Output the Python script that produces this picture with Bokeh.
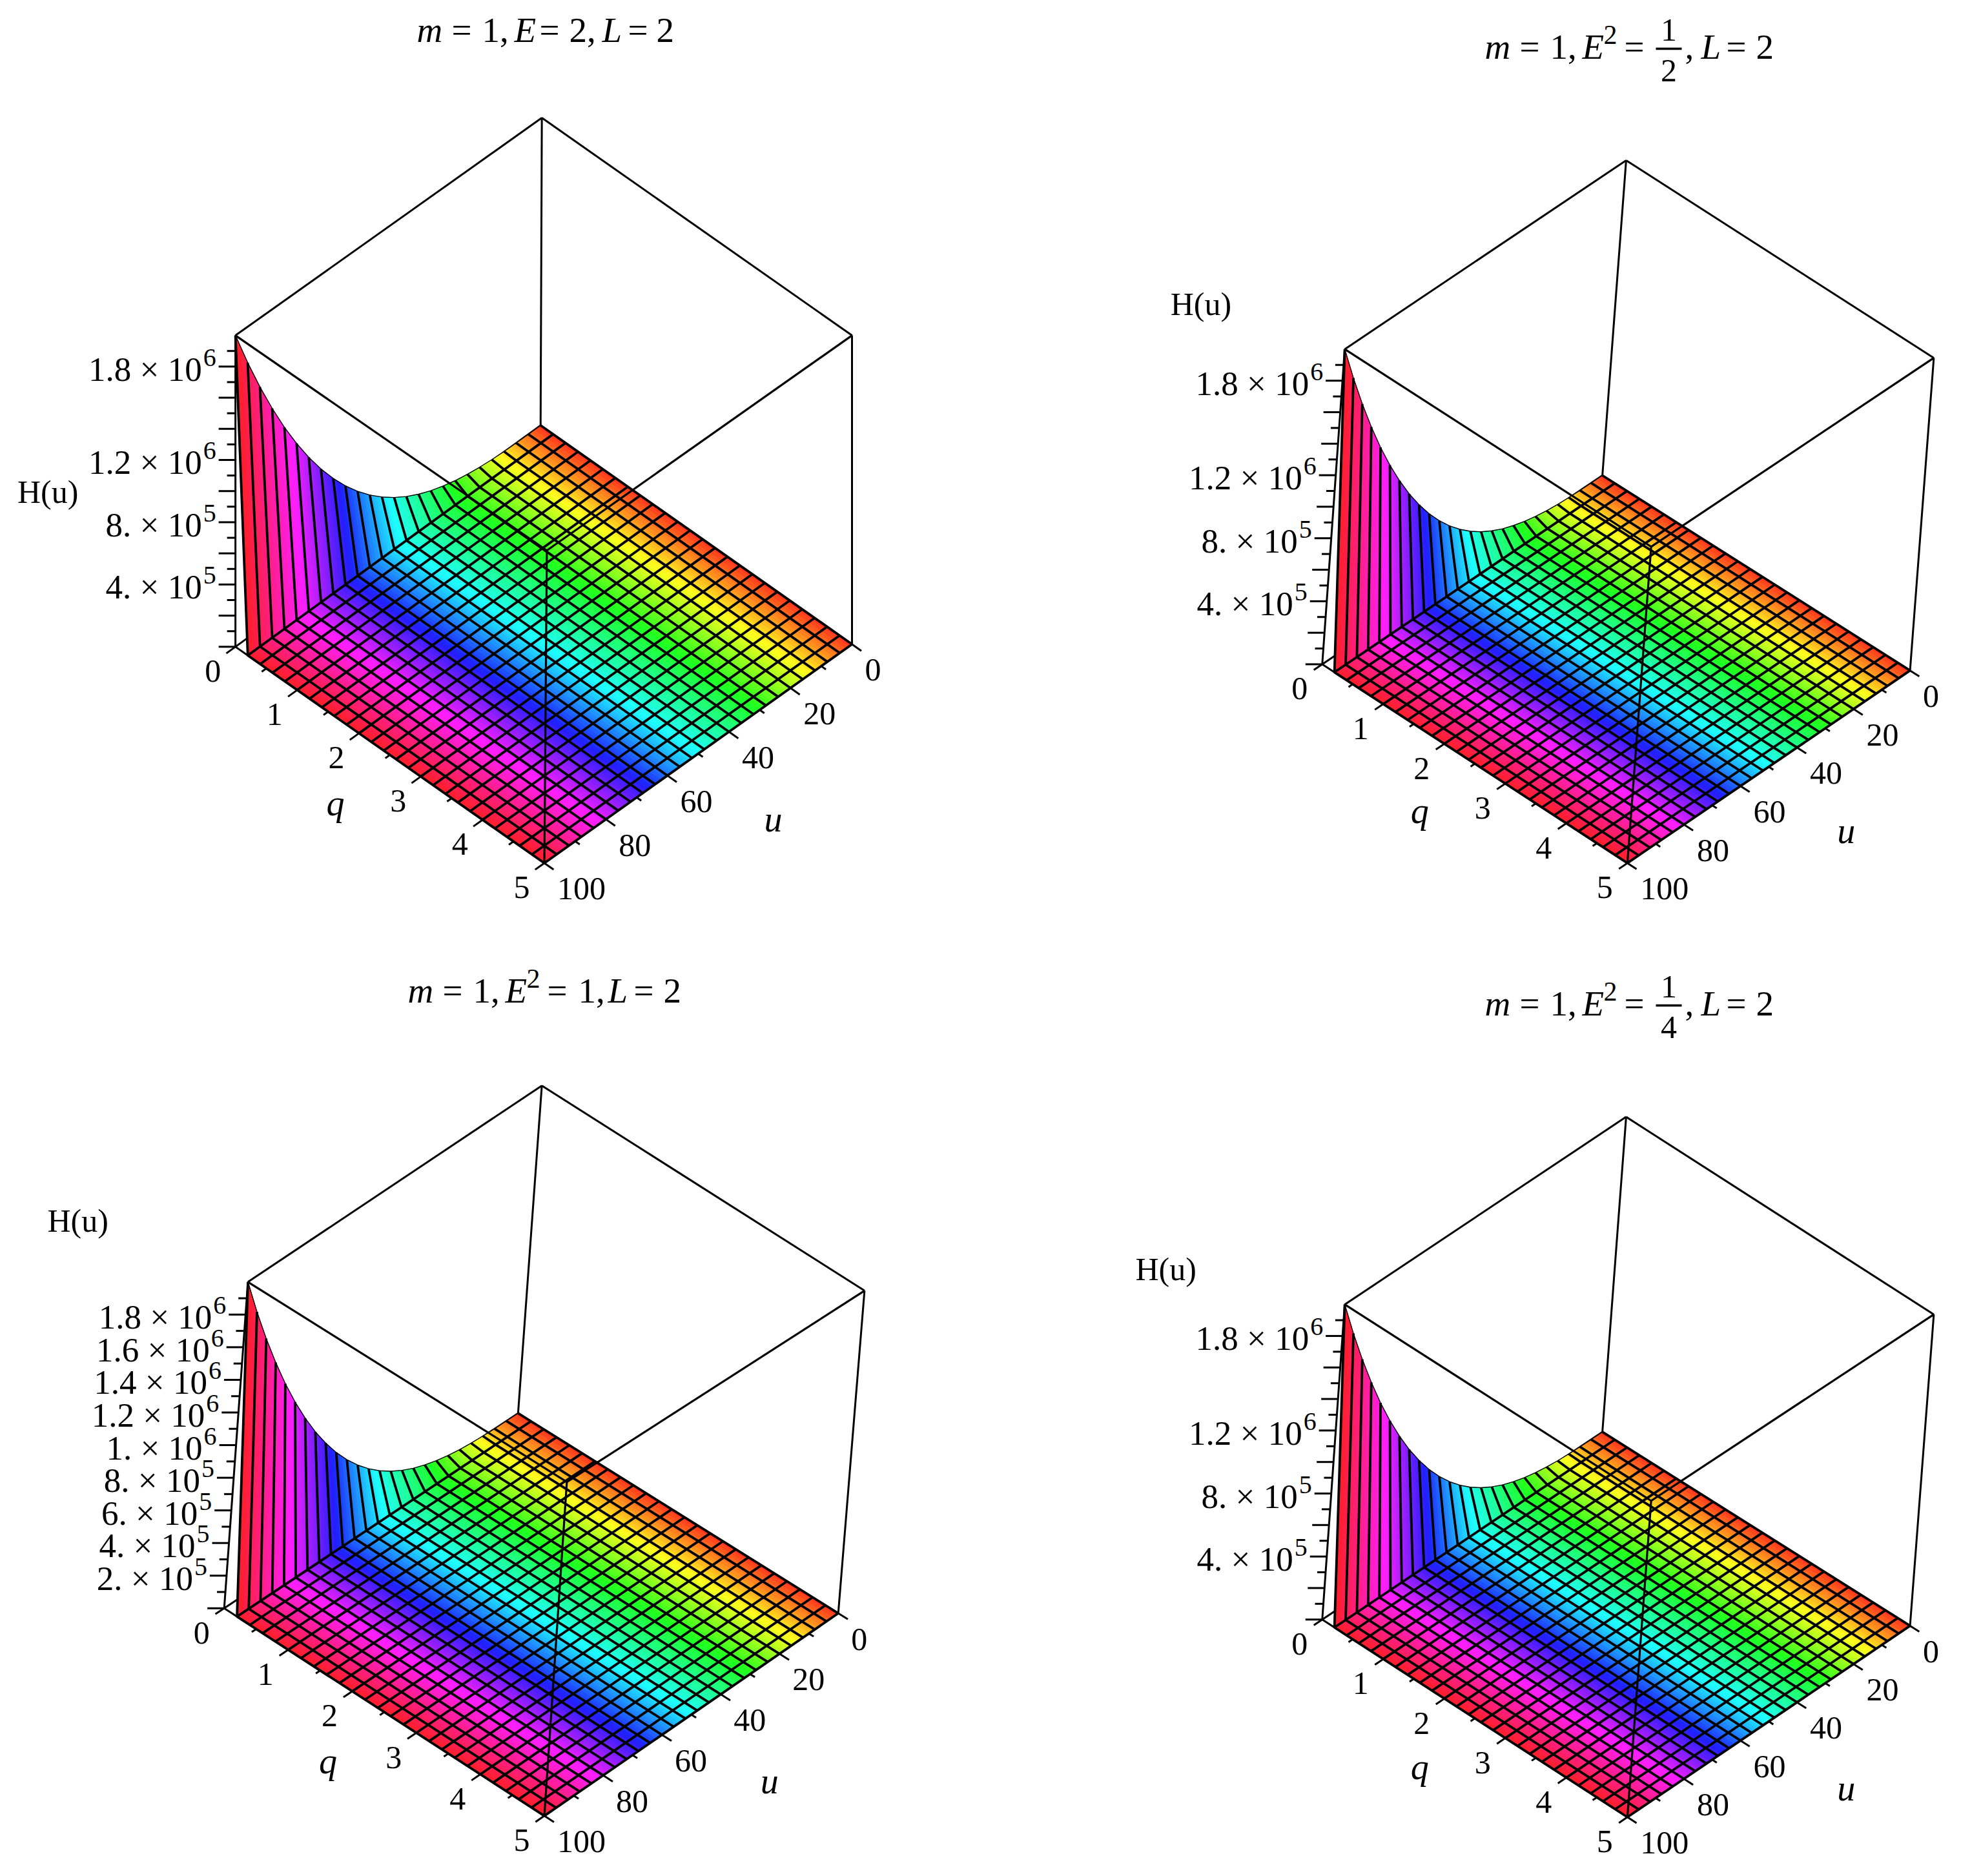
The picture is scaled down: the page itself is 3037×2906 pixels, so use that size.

import colorsys
import numpy as np
from bokeh.plotting import figure
from bokeh.layouts import column, row
from bokeh.models import Range1d
from bokeh.core.properties import value
from bokeh.embed import file_html
from bokeh.resources import INLINE

# ---- data ----
q_grid = [0.0, 0.2, 0.4, 0.6, 0.8, 1.0, 1.2, 1.4, 1.6, 1.8, 2.0, 2.2, 2.4, 2.6, 2.8,
          3.0, 3.2, 3.4, 3.6, 3.8, 4.0, 4.2, 4.4, 4.6, 4.8, 5.0]
u_grid = [0, 4, 8, 12, 16, 20, 24, 28, 32, 36, 40, 44, 48, 52, 56, 60, 64, 68, 72, 76,
          80, 84, 88, 92, 96, 100]
# H(u) along the q = 0 edge; the surface is flat (about 0) for q >= 0.2
H_at_q0 = [0, 100, 1000, 3500, 8000, 16000, 28000, 44000, 66000, 93000, 128000, 170000,
           221000, 281000, 351000, 432000, 524000, 629000, 746000, 878000, 1024000,
           1185000, 1363000, 1557000, 1769000, 2000000]
H_top = 2000000
q_ticks = [0, 1, 2, 3, 4, 5]
u_ticks = [0, 20, 40, 60, 80, 100]
H_ticks_major = [200000 * i for i in range(0, 10)]
H_ticks_minor = [100000 + 200000 * i for i in range(0, 10)]
labels_sparse = [(1800000, "1.8", "6"), (1200000, "1.2", "6"), (800000, "8.", "5"), (400000, "4.", "5")]
labels_full = [(1800000, "1.8", "6"), (1600000, "1.6", "6"), (1400000, "1.4", "6"), (1200000, "1.2", "6"),
               (1000000, "1.", "6"), (800000, "8.", "5"), (600000, "6.", "5"), (400000, "4.", "5"),
               (200000, "2.", "5")]
# hue (degrees) against u
hue_u = [0, 14, 30, 50, 66, 82, 100]
hue_deg = [5, 60, 120, 180, 240, 300, 358]

S = 3037 / 1568
FONT = value("Liberation Serif")
BLACK = "#000000"
TITLE_SIZE = 55

# box corners in shrunk-picture units: (back, left, right, front) bottom then top
PANELS = [
    dict(bot=[(432, 340), (188, 517), (681, 515), (435, 690)],
         top=[(433, 94), (188, 268), (681, 268), (437, 440)],
         xr=(0, 1510), yr=(1440, 0), labels=labels_sparse, h_lab=(38, 393), q_lab=(268, 642), u_lab=(618, 655),
         title=[("m", 0, "i"), ("=", 54, ""), ("1,", 101, ""), ("E", 151, "i"), ("=", 190, ""), ("2,", 236, ""),
                ("L", 287, "i"), ("=", 327, ""), ("2", 371, "")],
         t0=(645, 63), sup=None, frac=None),
    dict(bot=[(1281, 380), (1057, 531), (1527, 536), (1301, 690)],
         top=[(1300, 128), (1075, 279), (1546, 286), (1320, 437)],
         xr=(1510, 3021), yr=(1440, 0), labels=labels_sparse, h_lab=(960, 243), q_lab=(1135, 648), u_lab=(1476, 664),
         title=[("m", 0, "i"), ("=", 54, ""), ("1,", 101, ""), ("E", 151, "i"), ("=", 216, ""), (",", 310, ""),
                ("L", 335, "i"), ("=", 374, ""), ("2", 420, "")],
         t0=(2299, 89), sup=("2", 184), frac=("1", "2", 285)),
    dict(bot=[(414, 1130), (179, 1286), (670, 1290), (435, 1452)],
         top=[(433, 868), (198, 1025), (691, 1032), (453, 1185)],
         xr=(0, 1510), yr=(2890, 1440), labels=labels_full, h_lab=(62, 976), q_lab=(262, 1408), u_lab=(615, 1424),
         title=[("m", 0, "i"), ("=", 54, ""), ("1,", 101, ""), ("E", 151, "i"), ("=", 216, ""), ("1,", 264, ""),
                ("L", 310, "i"), ("=", 350, ""), ("2", 396, "")],
         t0=(631, 1551), sup=("2", 184), frac=None),
    dict(bot=[(1281, 1145), (1057, 1295), (1527, 1300), (1301, 1453)],
         top=[(1300, 893), (1075, 1043), (1546, 1051), (1320, 1200)],
         xr=(1510, 3021), yr=(2890, 1440), labels=labels_sparse, h_lab=(932, 1015), q_lab=(1135, 1413), u_lab=(1476, 1430),
         title=[("m", 0, "i"), ("=", 54, ""), ("1,", 101, ""), ("E", 151, "i"), ("=", 216, ""), (",", 310, ""),
                ("L", 335, "i"), ("=", 374, ""), ("2", 420, "")],
         t0=(2299, 1571), sup=("2", 184), frac=("1", "4", 285)),
]


def hue_colour(u):
    h = float(np.interp(u, hue_u, hue_deg)) / 360.0
    r, g, b = colorsys.hsv_to_rgb(h, 0.88, 1.0)
    return "#%02x%02x%02x" % (int(r * 255), int(g * 255), int(b * 255))


def make_proj(panel):
    bot = np.array(panel["bot"], float) * S
    top = np.array(panel["top"], float) * S

    def proj(q, u, h=0.0):
        a, b = q / 5.0, u / 100.0
        c = h / H_top
        base = bot[0] * (1 - a) * (1 - b) + bot[1] * (1 - a) * b + bot[2] * a * (1 - b) + bot[3] * a * b
        roof = top[0] * (1 - a) * (1 - b) + top[1] * (1 - a) * b + top[2] * a * (1 - b) + top[3] * a * b
        return tuple(base * (1 - c) + roof * c)
    return proj


def segs(p, lists, width=3.0):
    p.multi_line([[a[0] for a in l] for l in lists], [[a[1] for a in l] for l in lists],
                 line_color=BLACK, line_width=width)


def txt(p, x, y, s, size, align="center", base="middle", style="normal"):
    p.text([x], [y], text=[s], text_font=FONT, text_font_size=value("%dpx" % size), text_color=BLACK,
           text_align=align, text_baseline=base, text_font_style=style)


def draw_panel(panel):
    proj = make_proj(panel)
    xr, yr = panel["xr"], panel["yr"]
    p = figure(width=xr[1] - xr[0], height=yr[0] - yr[1], x_range=Range1d(*xr), y_range=Range1d(*yr),
               output_backend="svg", toolbar_location=None, x_axis_location=None, y_axis_location=None,
               min_border=0, outline_line_color=None, background_fill_color="white")
    p.grid.visible = False

    # box, behind the surface
    segs(p, [[proj(0, 0, 0), proj(0, 0, H_top)],
             [proj(0, 0, H_top), proj(0, 100, H_top)],
             [proj(0, 0, H_top), proj(5, 0, H_top)],
             [proj(0, 100, 0), proj(0, 100, H_top)],
             [proj(5, 0, 0), proj(5, 0, H_top)],
             [proj(0, 0, 0), proj(0, 100, 0)],
             [proj(0, 100, 0), proj(5, 100, 0)],
             [proj(5, 0, 0), proj(5, 100, 0)],
             [proj(0, 0, 0), proj(5, 0, 0)]], width=3.0)

    # coloured strips: floor (q >= 0.2) and wall (0 <= q <= 0.2)
    xs, ys, cols = [], [], []
    q1 = q_grid[1]
    n_sub = 4
    for i in range(len(u_grid) - 1):
        u0, u1 = u_grid[i], u_grid[i + 1]
        h0, h1 = H_at_q0[i], H_at_q0[i + 1]
        for k in range(n_sub):
            f0, f1 = k / n_sub, (k + 1) / n_sub
            ua, ub = u0 + (u1 - u0) * f0, u0 + (u1 - u0) * f1
            ha, hb = h0 + (h1 - h0) * f0, h0 + (h1 - h0) * f1
            c = hue_colour((ua + ub) / 2)
            quad = [proj(q1, ua), proj(5, ua), proj(5, ub), proj(q1, ub)]
            xs.append([a[0] for a in quad]); ys.append([a[1] for a in quad]); cols.append(c)
            quad = [proj(0, ua, ha), proj(q1, ua), proj(q1, ub), proj(0, ub, hb)]
            xs.append([a[0] for a in quad]); ys.append([a[1] for a in quad]); cols.append(c)
    p.patches(xs, ys, fill_color=cols, line_color=cols, line_width=1.0)

    # mesh
    mesh = []
    for u, h in zip(u_grid, H_at_q0):
        mesh.append([proj(0, u, h), proj(q1, u), proj(5, u)])
    for q in q_grid[1:]:
        mesh.append([proj(q, u_grid[0]), proj(q, u_grid[-1])])
    segs(p, mesh, width=3.8)
    segs(p, [[proj(0, u, h) for u, h in zip(u_grid, H_at_q0)]], width=1.4)

    # box, in front of the surface
    segs(p, [[proj(5, 100, 0), proj(5, 100, H_top)],
             [proj(5, 100, H_top), proj(0, 100, H_top)],
             [proj(5, 100, H_top), proj(5, 0, H_top)]], width=3.2)

    # ticks on the q, u and H edges
    ticks = []
    for q in q_ticks:
        ticks.append([proj(q, 100), proj(q, 103)])
    for q in [t + 0.5 for t in q_ticks[:-1]]:
        ticks.append([proj(q, 100), proj(q, 101.5)])
    for u in u_ticks:
        ticks.append([proj(5, u), proj(5.15, u)])
    for u in [t + 10 for t in u_ticks[:-1]]:
        ticks.append([proj(5, u), proj(5.075, u)])
    for h in H_ticks_major:
        a = proj(0, 100, h)
        ticks.append([a, (a[0] - 26, a[1])])
    for h in H_ticks_minor:
        a = proj(0, 100, h)
        ticks.append([a, (a[0] - 13, a[1])])
    segs(p, ticks, width=3.0)

    # tick labels
    for q in q_ticks:
        a = proj(q, 100)
        txt(p, a[0] - 35, a[1] + 38, str(q), 50)
    for u in u_ticks:
        a = proj(5, u)
        txt(p, a[0] + 20, a[1] + 40, str(u), 50, align="left")
    for h, m, e in panel["labels"]:
        a = proj(0, 100, h)
        txt(p, a[0] - 52, a[1] + 4, m + " \u00d7 10", 53, align="right")
        txt(p, a[0] - 50, a[1] - 14, e, 40, align="left")

    txt(p, panel["h_lab"][0] * S, panel["h_lab"][1] * S, "H(u)", 50)
    txt(p, panel["q_lab"][0] * S, panel["q_lab"][1] * S, "q", 56, style="italic")
    txt(p, panel["u_lab"][0] * S, panel["u_lab"][1] * S, "u", 56, style="italic")

    # title: baseline y0, drawn about the text's middle
    x0, y0 = panel["t0"]
    for s, off, st in panel["title"]:
        txt(p, x0 + off, y0 - 17, s, TITLE_SIZE, align="left", base="middle",
            style="italic" if st == "i" else "normal")
    if panel["sup"]:
        s, off = panel["sup"]
        txt(p, x0 + off, y0 - 36, s, 42, align="left", base="middle")
    if panel["frac"]:
        n, d, off = panel["frac"]
        txt(p, x0 + off, y0 - 43, n, 50)
        txt(p, x0 + off, y0 + 20, d, 50)
        segs(p, [[(x0 + off - 20, y0 - 14), (x0 + off + 20, y0 - 14)]], width=3.5)
    return p


figs = [draw_panel(pn) for pn in PANELS]
layout = column(row(figs[0], figs[1]), row(figs[2], figs[3]))
open("out.html", "w").write(file_html(layout, INLINE))
